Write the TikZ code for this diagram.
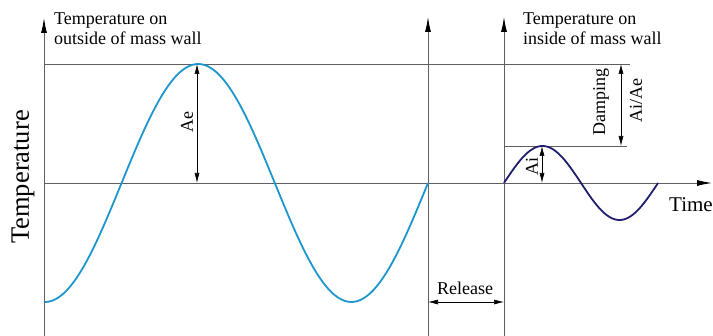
\documentclass[tikz,border=0pt]{standalone}
\usepackage{fontspec}
\setmainfont{Liberation Serif}
\usetikzlibrary{arrows.meta}
\definecolor{axisgray}{RGB}{95,95,95}
\definecolor{outerblue}{RGB}{28,150,204}
\definecolor{innerblue}{RGB}{32,30,110}
\begin{document}
\begin{tikzpicture}[x=1pt,y=1pt,
    axis/.style={draw=axisgray,line width=0.9pt},
    axisarrow/.style={axis,-{Latex[length=15pt,width=6pt,color=black]}},
    dim/.style={draw=black,line width=0.6pt,{Latex[length=10pt,width=5pt]}-{Latex[length=10pt,width=5pt]}},
    lbl/.style={inner sep=0pt,font=\fontsize{18}{20}\selectfont},
    wave/.style={line width=1.8pt,smooth,samples=120}
]
\useasboundingbox (0,0) rectangle (713,336);

% axes and guide lines
\coordinate (yB)   at (44,0);   \coordinate (yT)   at (44,318);
\coordinate (xL)   at (44,153); \coordinate (xR)   at (712,153);
\coordinate (topL) at (44,272); \coordinate (topR) at (630,272);
\coordinate (vaB)  at (428,0);  \coordinate (vaT)  at (428,319);
\coordinate (vbB)  at (504,0);  \coordinate (vbT)  at (504,319);
\coordinate (pkL)  at (504,190);\coordinate (pkR)  at (627,190);

\draw[axisarrow] (yB) -- (yT);
\draw[axisarrow] (xL) -- (xR);
\draw[axisarrow] (vaB) -- (vaT);
\draw[axisarrow] (vbB) -- (vbT);
\draw[axis] (topL) -- (topR);
\draw[axis] (pkL) -- (pkR);

% temperature waves
\draw[wave,outerblue] plot[domain=45:428] (\x,{153-119*cos((\x-45)/306.4*360)});
\draw[wave,innerblue] plot[domain=504:658] (\x,{153+37*sin((\x-504)/154*360)});

% amplitudes
\coordinate (AeT) at (197,272); \coordinate (AeB) at (197,153);
\coordinate (AiT) at (542,190); \coordinate (AiB) at (542,153);
\coordinate (DmT) at (621,272); \coordinate (DmB) at (621,190);
\coordinate (RlL) at (428,34);  \coordinate (RlR) at (504,34);

\draw[dim] (AeB) -- (AeT);
\draw[dim] (AiB) -- (AiT);
\draw[dim] (DmB) -- (DmT);
\draw[dim] (RlL) -- (RlR);

\node[lbl,rotate=90] (Ae)  at (187,214) {Ae};
\node[lbl,rotate=90] (Ai)  at (532,169) {Ai};
\node[lbl,rotate=90] (Dmp) at (601,234) {Damping};
\node[lbl,rotate=90] (AiAe) at (636,235) {Ai/Ae};
\node[lbl] (Rel) at (465,48) {Release};

\node[lbl,font=\fontsize{21}{24}\selectfont,anchor=base west] (Time) at (669,124) {Time};
\node[lbl,font=\fontsize{26.5}{30}\selectfont,rotate=90] (Temp) at (23,159) {Temperature};

\node[lbl,align=left,anchor=north west] (outT) at (54,323) {Temperature on\\outside of mass wall};
\node[lbl,align=left,anchor=north west] (inT)  at (523,323) {Temperature on\\inside of mass wall};
\end{tikzpicture}
\end{document}
